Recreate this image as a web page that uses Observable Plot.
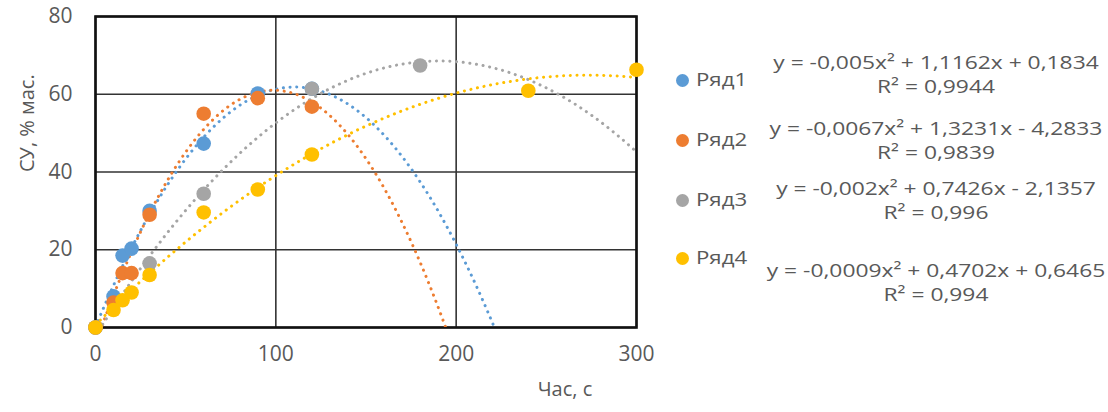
<!DOCTYPE html>
<html>
<head>
<meta charset="utf-8">
<script src="https://cdn.jsdelivr.net/npm/d3@7"></script>
<script src="https://cdn.jsdelivr.net/npm/@observablehq/plot@0.6"></script>
<style>
  html, body { margin: 0; padding: 0; background: #fff; }
  #wrap { position: relative; width: 1108px; height: 412px; overflow: hidden; font-family: "Open Sans", sans-serif; color: #595959; }
  #chart { position: absolute; left: 0; top: 0; }
  .leg { position: absolute; font-size: 19px; line-height: 20px; white-space: nowrap; transform: scaleX(1.17); transform-origin: left center; }
  .mk { position: absolute; width: 13px; height: 13px; border-radius: 50%; }
  .eq { position: absolute; width: 420px; text-align: center; font-size: 19px; line-height: 20px; white-space: nowrap; transform: scaleX(1.2); transform-origin: center center; }
</style>
</head>
<body>
<div id="wrap"><div id="chart"></div></div>
<script>
// ---- data ----
const seriesNames = ["Ряд1", "Ряд2", "Ряд3", "Ряд4"];
const seriesColors = ["#5B9BD5", "#ED7D31", "#A5A5A5", "#FFC000"];
const xTicks = [0, 100, 200, 300];
const yTicks = [0, 20, 40, 60, 80];

const time1 = [0, 10, 15, 20, 30, 60, 90, 120];
const value1 = [0, 8, 18.5, 20.3, 30, 47.3, 60.2, 61.4];
const time2 = [0, 10, 15, 20, 30, 60, 90, 120];
const value2 = [0, 6.4, 14, 14, 29, 55, 59, 56.8];
const time3 = [0, 30, 60, 120, 180];
const value3 = [0, 16.5, 34.4, 61.4, 67.4];
const time4 = [0, 10, 15, 20, 30, 60, 90, 120, 240, 300];
const value4 = [0, 4.5, 7, 9, 13.5, 29.6, 35.5, 44.5, 60.9, 66.3];

// polynomial trendline coefficients (y = a x^2 + b x + c), estimated from the drawn curves
const coefA = [-0.00505, -0.0067, -0.00195, -0.00086];
const coefB = [1.1162, 1.3231, 0.7426, 0.4702];
const coefC = [0.1834, -4.2833, -2.1357, 0.6465];

const eqLabels = [
  "y = -0,005x² + 1,1162x + 0,1834",
  "y = -0,0067x² + 1,3231x - 4,2833",
  "y = -0,002x² + 0,7426x - 2,1357",
  "y = -0,0009x² + 0,4702x + 0,6465"
];
const r2Labels = ["R² = 0,9944", "R² = 0,9839", "R² = 0,996", "R² = 0,994"];
const xLabel = "Час, с";
const yLabel = "СУ, % мас.";

// ---- build tables ----
const times = [time1, time2, time3, time4];
const values = [value1, value2, value3, value4];
const points = [];
times.forEach((ts, s) => ts.forEach((t, i) => points.push({series: seriesNames[s], x: t, y: values[s][i]})));

const trend = [];
seriesNames.forEach((name, s) => {
  for (let x = 0; x <= 300; x += 1) {
    trend.push({series: name, x, y: coefA[s] * x * x + coefB[s] * x + coefC[s]});
  }
});

const color = {domain: seriesNames, range: seriesColors};

const chart = Plot.plot({
  width: 680,
  height: 412,
  marginLeft: 95,
  marginRight: 44,
  marginTop: 16,
  marginBottom: 85,
  style: {fontFamily: "Open Sans, sans-serif", fontSize: "21px", color: "#595959", background: "transparent"},
  x: {domain: [0, 300]},
  y: {domain: [0, 80]},
  color,
  marks: [
    Plot.gridX(xTicks, {stroke: "#333", strokeOpacity: 1, strokeWidth: 1.6}),
    Plot.gridY(yTicks, {stroke: "#333", strokeOpacity: 1, strokeWidth: 1.6}),
    Plot.frame({stroke: "#111", strokeWidth: 2.6}),
    Plot.axisX({ticks: xTicks, tickSize: 0, tickPadding: 19, fontSize: 21, fill: "#595959", label: null}),
    Plot.axisY({ticks: yTicks, tickSize: 0, tickPadding: 23, fontSize: 21, fill: "#595959", label: null}),
    Plot.line(trend, {x: "x", y: "y", z: "series", stroke: "series", strokeWidth: 3, strokeDasharray: "0.1 6.6", strokeLinecap: "round", clip: true}),
    Plot.dot(points, {x: "x", y: "y", fill: "series", r: 7.3, stroke: "none"}),
    Plot.text([yLabel], {frameAnchor: "left", dx: -68, rotate: -90, fontSize: 20, fill: "#595959"}),
    Plot.text([xLabel], {frameAnchor: "bottom", dx: 199, dy: 68, fontSize: 20, fill: "#595959"})
  ]
});
document.getElementById("chart").appendChild(chart);

// ---- legend with trendline equations (HTML, right of the chart) ----
const wrap = document.getElementById("wrap");
const legendY = [80, 140, 200, 258];
const eqY = [63, 129, 189, 271];
seriesNames.forEach((name, s) => {
  const mk = document.createElement("div");
  mk.className = "mk";
  mk.style.background = seriesColors[s];
  mk.style.left = "676px";
  mk.style.top = (legendY[s] - 6.5) + "px";
  wrap.appendChild(mk);
  const lab = document.createElement("div");
  lab.className = "leg";
  lab.textContent = name;
  lab.style.left = "696px";
  lab.style.top = (legendY[s] - 11) + "px";
  wrap.appendChild(lab);
  const e1 = document.createElement("div");
  e1.className = "eq";
  e1.textContent = eqLabels[s];
  e1.style.left = (936 - 210) + "px";
  e1.style.top = (eqY[s] - 11) + "px";
  wrap.appendChild(e1);
  const e2 = document.createElement("div");
  e2.className = "eq";
  e2.textContent = r2Labels[s];
  e2.style.left = (936 - 210) + "px";
  e2.style.top = (eqY[s] + 24 - 11) + "px";
  wrap.appendChild(e2);
});
</script>
</body>
</html>
